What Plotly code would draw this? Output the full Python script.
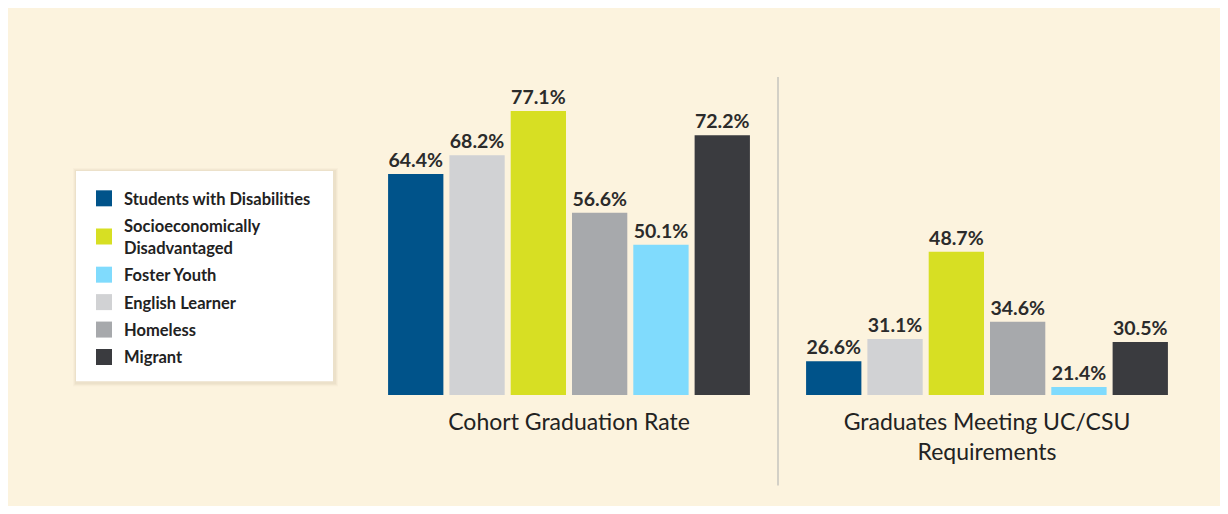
import plotly.graph_objects as go

# ---------------- data ----------------
categories = ["Cohort Graduation Rate", "Graduates Meeting UC/CSU<br>Requirements"]
groups = ["Students with Disabilities", "English Learner", "Socioeconomically<br>Disadvantaged",
          "Homeless", "Foster Youth", "Migrant"]
swd = [64.4, 26.6]
el = [68.2, 31.1]
sed = [77.1, 48.7]
homeless = [56.6, 34.6]
foster = [50.1, 21.4]
migrant = [72.2, 30.5]
series_values = [swd, el, sed, homeless, foster, migrant]
legend_order = ["Students with Disabilities", "Socioeconomically<br>Disadvantaged", "Foster Youth",
                "English Learner", "Homeless", "Migrant"]

colors = {
    "Students with Disabilities": "#00538A",
    "English Learner": "#D1D2D4",
    "Socioeconomically<br>Disadvantaged": "#D7DF23",
    "Homeless": "#A7A9AC",
    "Foster Youth": "#80DBFD",
    "Migrant": "#3A3B3F",
}

# ---------------- layout geometry (figure px) ----------------
W, H = 1212, 498
L, R = 352, 1188          # plot area x
T, B = 72, 386.7          # plot area y
CREAM = "rgb(252,243,222)"
TXT = "#2b2b2b"
FONT = "Lato"

def px(x):
    return (x - L) / (R - L)

def py(y):
    return (B - y) / (B - T)

fig = go.Figure()

for name, vals in zip(groups, series_values):
    fig.add_trace(go.Bar(
        x=categories, y=vals, name=name,
        marker=dict(color=colors[name], line=dict(width=0)),
        text=[f"{v:.1f}%" for v in vals],
        textposition="outside",
        textfont=dict(family=FONT, size=19.5, color=TXT, weight="bold"),
        constraintext="none",
        cliponaxis=False,
        showlegend=False,
        hoverinfo="x+y+name",
    ))

# legend entries (square swatches)
for name in legend_order:
    fig.add_trace(go.Scatter(
        x=[None], y=[None], mode="markers", name=name,
        marker=dict(symbol="square", size=16, color=colors[name]),
        showlegend=True, legendgroup=name,
    ))

shapes = []
# legend box shadow + box
lx0, lx1, ly0, ly1 = 68, 325, 163, 373
for off, alpha in [(4, 0.03), (3, 0.04), (2, 0.05)]:
    shapes.append(dict(type="rect", xref="paper", yref="paper",
                       x0=px(lx0 - off + 1), x1=px(lx1 + off + 1),
                       y0=py(ly1 + off + 1), y1=py(ly0 - off + 1),
                       line=dict(width=0), fillcolor=f"rgba(120,100,60,{alpha})", layer="below"))
shapes.append(dict(type="rect", xref="paper", yref="paper",
                   x0=px(lx0), x1=px(lx1), y0=py(ly1), y1=py(ly0),
                   line=dict(width=0), fillcolor="white", layer="below"))
# divider
shapes.append(dict(type="line", xref="x", yref="paper", x0=0.5, x1=0.5,
                   y0=py(477), y1=py(69), line=dict(color="#D3D0C6", width=2)))

fig.update_layout(
    width=W, height=H,
    margin=dict(l=L, r=W - R, t=T, b=H - B, pad=0),
    paper_bgcolor=CREAM, plot_bgcolor="rgba(0,0,0,0)",
    barmode="group", bargap=0.12, bargroupgap=0.098,
    font=dict(family=FONT, color=TXT),
    shapes=shapes,
    showlegend=True,
    legend=dict(
        x=px(lx0 + 8), y=py(ly0 + 10), xanchor="left", yanchor="top",
        bgcolor="rgba(0,0,0,0)", borderwidth=0,
        font=dict(family=FONT, size=16.5, color="#222222", weight="bold"),
        tracegroupgap=3, traceorder="grouped",
        itemsizing="trace",
    ),
    xaxis=dict(
        type="category", showgrid=False, zeroline=False, showline=False, ticks="",
        tickfont=dict(family=FONT, size=23, color="#222222"),
        ticklabelstandoff=11, range=[-0.5, 1.5], fixedrange=True,
    ),
    yaxis=dict(
        range=[19.8, 19.8 + (B - T) / 4.95], visible=False, showgrid=False, zeroline=False,
        fixedrange=True,
    ),
)

fig.write_html("out.html")
